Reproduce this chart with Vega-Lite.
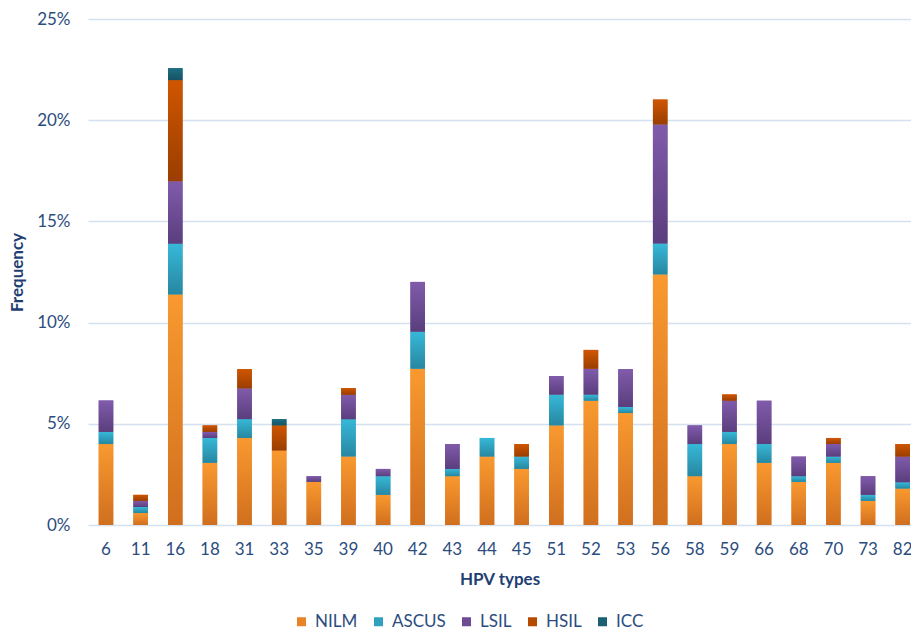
{
  "$schema": "https://vega.github.io/schema/vega-lite/v6.json",
  "width": 823,
  "height": 506,
  "autosize": {"type": "none"},
  "padding": {"left": 88, "top": 19, "right": 0, "bottom": 106},
  "background": "#ffffff",
  "config": {
    "view": {"stroke": null},
    "font": "Lato",
    "axis": {"labelFont": "Lato", "titleFont": "Lato", "labelColor": "#2B4C7E", "titleColor": "#1F3F73", "labelFontSize": 17, "titleFontSize": 17, "titleFontWeight": "bold", "domain": false, "ticks": false, "tickSize": 0},
    "legend": {"labelFont": "Lato", "labelFontSize": 17, "labelColor": "#2B4C7E"}
  },
  "data": {
    "values": [
      {"type": "6", "cat": "NILM", "ord": 1, "value": 0.0400},
      {"type": "6", "cat": "ASCUS", "ord": 2, "value": 0.0060},
      {"type": "6", "cat": "LSIL", "ord": 3, "value": 0.0155},
      {"type": "11", "cat": "NILM", "ord": 1, "value": 0.0059},
      {"type": "11", "cat": "ASCUS", "ord": 2, "value": 0.0030},
      {"type": "11", "cat": "LSIL", "ord": 3, "value": 0.0030},
      {"type": "11", "cat": "HSIL", "ord": 4, "value": 0.0030},
      {"type": "16", "cat": "NILM", "ord": 1, "value": 0.1139},
      {"type": "16", "cat": "ASCUS", "ord": 2, "value": 0.0251},
      {"type": "16", "cat": "LSIL", "ord": 3, "value": 0.0308},
      {"type": "16", "cat": "HSIL", "ord": 4, "value": 0.0500},
      {"type": "16", "cat": "ICC", "ord": 5, "value": 0.0059},
      {"type": "18", "cat": "NILM", "ord": 1, "value": 0.0307},
      {"type": "18", "cat": "ASCUS", "ord": 2, "value": 0.0123},
      {"type": "18", "cat": "LSIL", "ord": 3, "value": 0.0030},
      {"type": "18", "cat": "HSIL", "ord": 4, "value": 0.0032},
      {"type": "31", "cat": "NILM", "ord": 1, "value": 0.0430},
      {"type": "31", "cat": "ASCUS", "ord": 2, "value": 0.0093},
      {"type": "31", "cat": "LSIL", "ord": 3, "value": 0.0152},
      {"type": "31", "cat": "HSIL", "ord": 4, "value": 0.0095},
      {"type": "33", "cat": "NILM", "ord": 1, "value": 0.0368},
      {"type": "33", "cat": "HSIL", "ord": 4, "value": 0.0124},
      {"type": "33", "cat": "ICC", "ord": 5, "value": 0.0031},
      {"type": "35", "cat": "NILM", "ord": 1, "value": 0.0213},
      {"type": "35", "cat": "LSIL", "ord": 3, "value": 0.0028},
      {"type": "39", "cat": "NILM", "ord": 1, "value": 0.0338},
      {"type": "39", "cat": "ASCUS", "ord": 2, "value": 0.0185},
      {"type": "39", "cat": "LSIL", "ord": 3, "value": 0.0121},
      {"type": "39", "cat": "HSIL", "ord": 4, "value": 0.0033},
      {"type": "40", "cat": "NILM", "ord": 1, "value": 0.0149},
      {"type": "40", "cat": "ASCUS", "ord": 2, "value": 0.0092},
      {"type": "40", "cat": "LSIL", "ord": 3, "value": 0.0036},
      {"type": "42", "cat": "NILM", "ord": 1, "value": 0.0772},
      {"type": "42", "cat": "ASCUS", "ord": 2, "value": 0.0183},
      {"type": "42", "cat": "LSIL", "ord": 3, "value": 0.0246},
      {"type": "43", "cat": "NILM", "ord": 1, "value": 0.0241},
      {"type": "43", "cat": "ASCUS", "ord": 2, "value": 0.0036},
      {"type": "43", "cat": "LSIL", "ord": 3, "value": 0.0123},
      {"type": "44", "cat": "NILM", "ord": 1, "value": 0.0338},
      {"type": "44", "cat": "ASCUS", "ord": 2, "value": 0.0092},
      {"type": "45", "cat": "NILM", "ord": 1, "value": 0.0277},
      {"type": "45", "cat": "ASCUS", "ord": 2, "value": 0.0061},
      {"type": "45", "cat": "HSIL", "ord": 4, "value": 0.0062},
      {"type": "51", "cat": "NILM", "ord": 1, "value": 0.0492},
      {"type": "51", "cat": "ASCUS", "ord": 2, "value": 0.0152},
      {"type": "51", "cat": "LSIL", "ord": 3, "value": 0.0092},
      {"type": "52", "cat": "NILM", "ord": 1, "value": 0.0614},
      {"type": "52", "cat": "ASCUS", "ord": 2, "value": 0.0030},
      {"type": "52", "cat": "LSIL", "ord": 3, "value": 0.0128},
      {"type": "52", "cat": "HSIL", "ord": 4, "value": 0.0093},
      {"type": "53", "cat": "NILM", "ord": 1, "value": 0.0553},
      {"type": "53", "cat": "ASCUS", "ord": 2, "value": 0.0030},
      {"type": "53", "cat": "LSIL", "ord": 3, "value": 0.0187},
      {"type": "56", "cat": "NILM", "ord": 1, "value": 0.1238},
      {"type": "56", "cat": "ASCUS", "ord": 2, "value": 0.0153},
      {"type": "56", "cat": "LSIL", "ord": 3, "value": 0.0588},
      {"type": "56", "cat": "HSIL", "ord": 4, "value": 0.0123},
      {"type": "58", "cat": "NILM", "ord": 1, "value": 0.0241},
      {"type": "58", "cat": "ASCUS", "ord": 2, "value": 0.0159},
      {"type": "58", "cat": "LSIL", "ord": 3, "value": 0.0092},
      {"type": "59", "cat": "NILM", "ord": 1, "value": 0.0400},
      {"type": "59", "cat": "ASCUS", "ord": 2, "value": 0.0060},
      {"type": "59", "cat": "LSIL", "ord": 3, "value": 0.0154},
      {"type": "59", "cat": "HSIL", "ord": 4, "value": 0.0031},
      {"type": "66", "cat": "NILM", "ord": 1, "value": 0.0307},
      {"type": "66", "cat": "ASCUS", "ord": 2, "value": 0.0093},
      {"type": "66", "cat": "LSIL", "ord": 3, "value": 0.0214},
      {"type": "68", "cat": "NILM", "ord": 1, "value": 0.0213},
      {"type": "68", "cat": "ASCUS", "ord": 2, "value": 0.0028},
      {"type": "68", "cat": "LSIL", "ord": 3, "value": 0.0097},
      {"type": "70", "cat": "NILM", "ord": 1, "value": 0.0307},
      {"type": "70", "cat": "ASCUS", "ord": 2, "value": 0.0031},
      {"type": "70", "cat": "LSIL", "ord": 3, "value": 0.0062},
      {"type": "70", "cat": "HSIL", "ord": 4, "value": 0.0030},
      {"type": "73", "cat": "NILM", "ord": 1, "value": 0.0119},
      {"type": "73", "cat": "ASCUS", "ord": 2, "value": 0.0030},
      {"type": "73", "cat": "LSIL", "ord": 3, "value": 0.0092},
      {"type": "82", "cat": "NILM", "ord": 1, "value": 0.0180},
      {"type": "82", "cat": "ASCUS", "ord": 2, "value": 0.0031},
      {"type": "82", "cat": "LSIL", "ord": 3, "value": 0.0127},
      {"type": "82", "cat": "HSIL", "ord": 4, "value": 0.0062}
    ]
  },
  "transform": [
    {"stack": "value", "groupby": ["type"], "sort": [{"field": "ord", "order": "ascending"}], "as": ["v0", "v1"]}
  ],
  "encoding": {
    "x": {
      "field": "type",
      "type": "nominal",
      "title": "HPV types",
      "scale": {"domain": ["6","11","16","18","31","33","35","39","40","42","43","44","45","51","52","53","56","58","59","66","68","70","73","82"], "paddingInner": 0.58, "paddingOuter": 0.17, "align": 0.91},
      "axis": {"labelAngle": 0, "labelPadding": 16, "titlePadding": 14, "grid": false}
    },
    "y": {
      "field": "v0",
      "type": "quantitative",
      "title": "Frequency",
      "scale": {"domain": [0, 0.25], "nice": false},
      "axis": {"values": [0, 0.05, 0.1, 0.15, 0.2, 0.25], "format": ".0%", "labelPadding": 18, "titlePadding": 10, "grid": true, "gridColor": "#D5E1F0", "gridWidth": 1.5}
    },
    "y2": {"field": "v1"}
  },
  "layer": [
    {
      "mark": {"type": "bar", "strokeWidth": 0},
      "encoding": {
        "color": {
          "field": "cat",
          "type": "nominal",
          "scale": {
            "domain": ["NILM", "ASCUS", "LSIL", "HSIL", "ICC"],
            "range": ["#E98327", "#2FA0BD", "#6D4C94", "#B84A00", "#1A6072"]
          },
          "legend": {
            "title": null,
            "orient": "none",
            "direction": "horizontal",
            "legendX": 205,
            "legendY": 594,
            "padding": 0,
            "symbolType": "square",
            "symbolSize": 81,
            "symbolStrokeWidth": 0,
            "labelOffset": 5,
            "columnPadding": 12
          }
        }
      }
    },
    {
      "transform": [{"filter": "datum.cat === 'NILM'"}],
      "mark": {"type": "bar", "strokeWidth": 0, "color": {"gradient": "linear", "x1": 0, "y1": 0, "x2": 0, "y2": 1, "stops": [{"offset": 0, "color": "#F9992F"}, {"offset": 1, "color": "#D06F1E"}]}}
    },
    {
      "transform": [{"filter": "datum.cat === 'ASCUS'"}],
      "mark": {"type": "bar", "strokeWidth": 0, "color": {"gradient": "linear", "x1": 0, "y1": 0, "x2": 0, "y2": 1, "stops": [{"offset": 0, "color": "#37B8D8"}, {"offset": 1, "color": "#2787A1"}]}}
    },
    {
      "transform": [{"filter": "datum.cat === 'LSIL'"}],
      "mark": {"type": "bar", "strokeWidth": 0, "color": {"gradient": "linear", "x1": 0, "y1": 0, "x2": 0, "y2": 1, "stops": [{"offset": 0, "color": "#805BAB"}, {"offset": 1, "color": "#5A3E7D"}]}}
    },
    {
      "transform": [{"filter": "datum.cat === 'HSIL'"}],
      "mark": {"type": "bar", "strokeWidth": 0, "color": {"gradient": "linear", "x1": 0, "y1": 0, "x2": 0, "y2": 1, "stops": [{"offset": 0, "color": "#CF5600"}, {"offset": 1, "color": "#9A3E00"}]}}
    },
    {
      "transform": [{"filter": "datum.cat === 'ICC'"}],
      "mark": {"type": "bar", "strokeWidth": 0, "color": {"gradient": "linear", "x1": 0, "y1": 0, "x2": 0, "y2": 1, "stops": [{"offset": 0, "color": "#1E6E83"}, {"offset": 1, "color": "#165364"}]}}
    }
  ]
}
